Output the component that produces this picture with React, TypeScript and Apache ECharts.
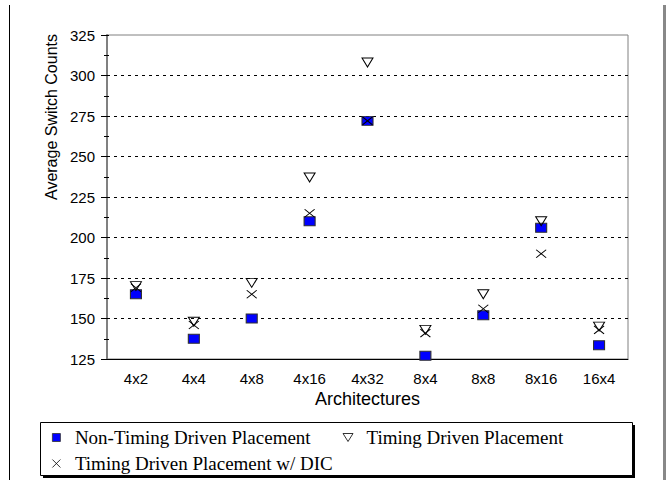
import React, { useEffect, useRef } from "react";
import * as echarts from "echarts";

const categories = ["4x2", "4x4", "4x8", "4x16", "4x32", "8x4", "8x8", "8x16", "16x4"];
const nonTimingDriven = [165, 137.5, 150, 210, 272, 127, 152, 206, 133.5];
const timingDriven = [170, 148, 172, 237, 308, 143, 165, 210, 145];
const timingDrivenDIC = [169, 146, 165, 215, 272, 141, 156, 190, 143];
const yMin = 125;
const yMax = 325;
const yInterval = 25;

const seriesNames = [
  "Non-Timing Driven Placement",
  "Timing Driven Placement",
  "Timing Driven Placement w/ DIC",
];

const SQUARE = "path://M0,0H10V10H0Z";
const TRI = "path://M0,0L10,0L5,8Z";
const CROSS = "path://M0,0L10,10M10,0L0,10";

const sans = "Liberation Sans";
const serif = "Liberation Serif";

export default function App() {
  const ref = useRef<HTMLDivElement>(null);
  useEffect(() => {
    if (!ref.current) return;
    const chart = echarts.init(ref.current, null, { renderer: "svg" });
    const legendText = { fontFamily: serif, fontSize: 19, color: "#000" };
    chart.setOption({
      animation: false,
      backgroundColor: "#fff",
      grid: {
        left: 107,
        right: 38,
        top: 35,
        bottom: 121,
        show: true,
        borderColor: "#808080",
        borderWidth: 1,
        backgroundColor: "transparent",
      },
      xAxis: [
        {
          type: "category",
          data: categories,
          boundaryGap: true,
          axisLine: { lineStyle: { color: "#000", width: 1 } },
          axisTick: { alignWithLabel: true, inside: true, length: 6, lineStyle: { color: "#000" } },
          axisLabel: { color: "#000", fontFamily: sans, fontSize: 15, margin: 12 },
          splitLine: { show: false },
          name: "Architectures",
          nameLocation: "middle",
          nameGap: 31,
          nameMoveOverlap: false,
          nameTextStyle: { color: "#000", fontFamily: sans, fontSize: 18 },
        },
        {
          type: "category",
          data: categories,
          position: "bottom",
          boundaryGap: true,
          axisLine: { show: false },
          axisTick: { alignWithLabel: true, inside: false, length: 4, lineStyle: { color: "#000" } },
          axisLabel: { show: false },
          splitLine: { show: false },
        },
      ],
      yAxis: [
        {
          type: "value",
          min: yMin,
          max: yMax,
          interval: yInterval,
          axisLine: { show: true, lineStyle: { color: "#808080", width: 2 } },
          axisTick: { show: true, length: 6, lineStyle: { color: "#000" } },
          minorTick: { show: true, splitNumber: 2, length: 3, lineStyle: { color: "#000" } },
          axisLabel: { color: "#000", fontFamily: sans, fontSize: 15, margin: 12 },
          splitLine: {
            show: true,
            showMinLine: false,
            showMaxLine: false,
            lineStyle: { type: [3, 4], color: "#000", width: 1 },
          },
        },
        {
          type: "value",
          min: yMin,
          max: yMax,
          interval: yInterval,
          position: "left",
          axisLine: { show: false },
          axisTick: { show: true, inside: true, length: 2, lineStyle: { color: "#000" } },
          minorTick: { show: true, splitNumber: 2, length: 2, lineStyle: { color: "#000" } },
          axisLabel: { show: false },
          splitLine: { show: false },
        },
      ],
      legend: [
        {
          data: [
            { name: seriesNames[0], icon: SQUARE },
            { name: seriesNames[1], icon: TRI },
          ],
          left: 52,
          top: 428,
          orient: "horizontal",
          itemWidth: 27,
          itemHeight: 8,
          itemGap: 32,
          padding: 0,
          selectedMode: false,
          itemStyle: { borderWidth: 0.8 },
          textStyle: legendText,
        },
        {
          data: [{ name: seriesNames[2], icon: CROSS }],
          left: 52,
          top: 454,
          orient: "horizontal",
          itemWidth: 27,
          itemHeight: 8,
          padding: 0,
          selectedMode: false,
          itemStyle: { borderWidth: 0.8 },
          textStyle: legendText,
        },
      ],
      graphic: [
        { type: "line", shape: { x1: 9.5, y1: 5, x2: 9.5, y2: 480 }, style: { stroke: "#000", lineWidth: 1 } },
        { type: "line", shape: { x1: 664.5, y1: 5, x2: 664.5, y2: 480 }, style: { stroke: "#888", lineWidth: 3 } },
        { type: "rect", shape: { x: 43, y: 425, width: 592, height: 53 }, style: { fill: "#000" } },
        { type: "rect", shape: { x: 40.5, y: 422.5, width: 592, height: 53 }, style: { fill: "#fff", stroke: "#000", lineWidth: 1 } },
        {
          type: "text",
          x: 51,
          y: 117,
          rotation: Math.PI / 2,
          style: {
            text: "Average Switch Counts",
            fill: "#000",
            font: `16px "${sans}"`,
            align: "center",
            verticalAlign: "middle",
          },
        },
      ],
      series: [
        {
          name: seriesNames[0],
          type: "scatter",
          data: nonTimingDriven,
          symbol: "rect",
          symbolSize: [11, 9],
          itemStyle: { color: "#0000ff", borderColor: "#303030", borderWidth: 1, opacity: 1 },
        },
        {
          name: seriesNames[1],
          type: "scatter",
          data: timingDriven,
          symbol: TRI,
          symbolSize: [11, 9],
          itemStyle: { color: "rgba(0,0,0,0)", borderColor: "#000", borderWidth: 1, opacity: 1 },
        },
        {
          name: seriesNames[2],
          type: "scatter",
          data: timingDrivenDIC,
          symbol: CROSS,
          symbolSize: [10, 8],
          itemStyle: { color: "rgba(0,0,0,0)", borderColor: "#000", borderWidth: 1, opacity: 1 },
        },
      ],
    });
    return () => chart.dispose();
  }, []);
  return (
    <div
      ref={ref}
      style={{ position: "fixed", left: 0, top: 0, width: 666, height: 480 }}
    />
  );
}
